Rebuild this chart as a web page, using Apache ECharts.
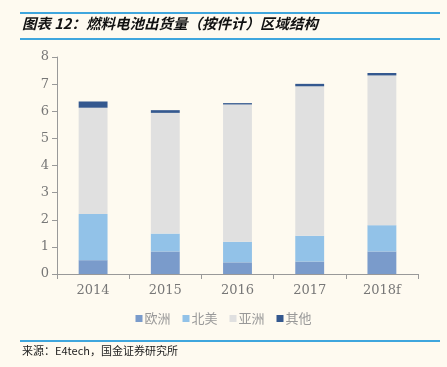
<!DOCTYPE html>
<html>
<head>
<meta charset="utf-8">
<script src="https://cdn.jsdelivr.net/npm/echarts@6/dist/echarts.min.js"></script>
<style>
  html, body { margin: 0; padding: 0; background: #FEFAF0; }
  #main { width: 447px; height: 367px; }
</style>
</head>
<body>
<div id="main"></div>
<script>
var years = ['2014', '2015', '2016', '2017', '2018f'];
var europe = [0.51, 0.83, 0.43, 0.46, 0.83];
var northAmerica = [1.70, 0.66, 0.76, 0.95, 0.97];
var asia = [3.92, 4.45, 5.06, 5.51, 5.52];
var other = [0.23, 0.10, 0.05, 0.09, 0.09];
var yTicks = [0, 8, 1];

var myColor = ['#7A9BCB', '#92C2E8', '#E0E0E0', '#34588F'];
var names = ['欧洲', '北美', '亚洲', '其他'];
var seriesData = [europe, northAmerica, asia, other];

var myChart = echarts.init(document.getElementById('main'));
var option = {
  backgroundColor: '#FEFAF0',
  animation: false,
  color: myColor,
  graphic: [
    { type: 'rect', shape: { x: 20, y: 12, width: 420, height: 2 }, style: { fill: '#3FA6DD' } },
    { type: 'rect', shape: { x: 20, y: 38, width: 420, height: 2 }, style: { fill: '#3FA6DD' } },
    { type: 'text', left: 22, top: 16, style: { text: '图表 12：燃料电池出货量（按件计）区域结构', font: 'italic bold 14.5px "Noto Sans CJK SC"', fill: '#111' } },
    { type: 'rect', shape: { x: 20, y: 340, width: 420, height: 2 }, style: { fill: '#3FA6DD' } },
    { type: 'text', left: 22, top: 345, style: { text: '来源：E4tech，国金证券研究所', font: '11px "Noto Sans CJK SC"', fill: '#222' } }
  ],
  grid: { left: 57, right: 29, top: 57, bottom: 93 },
  legend: {
    bottom: 37,
    left: 'center',
    itemWidth: 7,
    itemHeight: 7,
    itemGap: 12,
    icon: 'rect',
    textStyle: { color: '#999', fontSize: 13, fontFamily: 'Noto Sans CJK SC', padding: [0, 0, 0, -3] },
    data: names
  },
  xAxis: {
    type: 'category',
    data: years,
    axisLine: { lineStyle: { color: '#999' } },
    axisTick: { show: true, alignWithLabel: false, lineStyle: { color: '#999' } },
    axisLabel: { color: '#777', fontSize: 13, fontFamily: 'DejaVu Serif', margin: 10 }
  },
  yAxis: {
    type: 'value',
    min: yTicks[0],
    max: yTicks[1],
    interval: yTicks[2],
    axisLine: { show: true, lineStyle: { color: '#999' } },
    axisTick: { show: true, lineStyle: { color: '#999' } },
    splitLine: { show: false },
    axisLabel: { color: '#777', fontSize: 13, fontFamily: 'DejaVu Serif', margin: 8 }
  },
  series: seriesData.map(function (d, i) {
    return {
      name: names[i],
      type: 'bar',
      stack: 'total',
      data: d,
      barWidth: '40%',
      itemStyle: { color: myColor[i] }
    };
  })
};
myChart.setOption(option);
window.addEventListener('resize', function () {
  myChart.resize();
});
</script>
</body>
</html>
